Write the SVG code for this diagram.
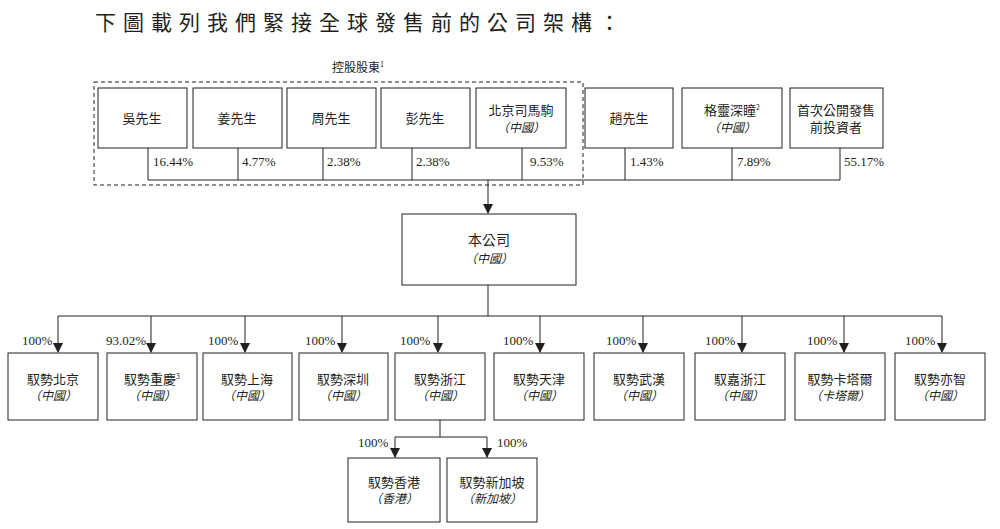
<svg xmlns="http://www.w3.org/2000/svg" width="1000" height="529" viewBox="0 0 1000 529">
<defs>
<marker id="ar" viewBox="0 0 10 10" refX="9" refY="5" markerWidth="10" markerHeight="10" markerUnits="userSpaceOnUse" orient="auto"><path d="M0,0 L10,5 L0,10 z" fill="#231f20"/></marker>
<style>
rect{fill:#fff;stroke:#231f20;stroke-width:1}
text{font-family:"Noto Sans CJK TC","Liberation Serif",serif;fill:#231f20;font-size:13px;text-anchor:middle}
.it{font-style:italic;font-size:12px}
.p{font-family:"Liberation Serif",serif;font-size:13px;text-anchor:start}
line,polyline{stroke:#231f20;stroke-width:1;fill:none}
.a{marker-end:url(#ar)}
</style>
</defs>
<text x="95" y="30" style="font-size:21px;text-anchor:start;letter-spacing:7px">下圖載列我們緊接全球發售前的公司架構：</text>
<text x="358" y="72" style="font-size:12px">控股股東<tspan font-size="7" dy="-5">1</tspan></text>
<rect x="94" y="82" width="489" height="103" style="stroke-dasharray:4,3;fill:none"/>
<g id="connectors">
<line x1="148" y1="148" x2="148" y2="180"/><line x1="238" y1="148" x2="238" y2="180"/>
<line x1="323" y1="148" x2="323" y2="180"/><line x1="412" y1="148" x2="412" y2="180"/>
<line x1="522" y1="148" x2="522" y2="180"/><line x1="625" y1="148" x2="625" y2="180"/>
<line x1="732" y1="148" x2="732" y2="180"/><line x1="840" y1="148" x2="840" y2="180"/>
<line x1="148" y1="180" x2="840" y2="180"/>
<line class="a" x1="488" y1="180" x2="488" y2="213"/>
<line x1="488" y1="285" x2="488" y2="316"/>
<line x1="58" y1="316" x2="942" y2="316"/>
<line class="a" x1="58" y1="316" x2="58" y2="352"/><line class="a" x1="151" y1="316" x2="151" y2="352"/>
<line class="a" x1="245" y1="316" x2="245" y2="352"/><line class="a" x1="342" y1="316" x2="342" y2="352"/>
<line class="a" x1="438" y1="316" x2="438" y2="352"/><line class="a" x1="540" y1="316" x2="540" y2="352"/>
<line class="a" x1="643" y1="316" x2="643" y2="352"/><line class="a" x1="742" y1="316" x2="742" y2="352"/>
<line class="a" x1="844" y1="316" x2="844" y2="352"/><line class="a" x1="942" y1="316" x2="942" y2="352"/>
<line x1="440" y1="420" x2="440" y2="437"/><line x1="395" y1="437" x2="487" y2="437"/>
<line class="a" x1="395" y1="437" x2="395" y2="457"/><line class="a" x1="487" y1="437" x2="487" y2="457"/>
</g>
<g id="pct">
<text class="p" x="153" y="166">16.44%</text><text class="p" x="242" y="166">4.77%</text>
<text class="p" x="327" y="166">2.38%</text><text class="p" x="416" y="166">2.38%</text>
<text class="p" x="530" y="166">9.53%</text><text class="p" x="630" y="166">1.43%</text>
<text class="p" x="737" y="166">7.89%</text><text class="p" x="844" y="166">55.17%</text>
<text class="p" x="22" y="345">100%</text><text class="p" x="106" y="345">93.02%</text>
<text class="p" x="208" y="345">100%</text><text class="p" x="305" y="345">100%</text>
<text class="p" x="400" y="345">100%</text><text class="p" x="503" y="345">100%</text>
<text class="p" x="606" y="345">100%</text><text class="p" x="705" y="345">100%</text>
<text class="p" x="807" y="345">100%</text><text class="p" x="905" y="345">100%</text>
<text class="p" x="358" y="447">100%</text><text class="p" x="497" y="447">100%</text>
</g>
<g id="n1"><rect x="98" y="88" width="89" height="60"/><text x="142" y="123">吳先生</text></g>
<g id="n2"><rect x="193" y="88" width="89" height="60"/><text x="237" y="123">姜先生</text></g>
<g id="n3"><rect x="287" y="88" width="89" height="60"/><text x="331" y="123">周先生</text></g>
<g id="n4"><rect x="381" y="88" width="89" height="60"/><text x="425" y="123">彭先生</text></g>
<g id="n5"><rect x="476" y="88" width="90" height="60"/><text x="521" y="115">北京司馬駒</text><text class="it" x="521" y="132">（中國）</text></g>
<g id="n6"><rect x="585" y="88" width="88" height="60"/><text x="629" y="123">趙先生</text></g>
<g id="n7"><rect x="682" y="88" width="100" height="60"/><text x="732" y="115">格靈深瞳<tspan font-size="7" dy="-5">2</tspan></text><text class="it" x="732" y="132">（中國）</text></g>
<g id="n8"><rect x="790" y="88" width="93" height="60"/><text x="836" y="115">首次公開發售</text><text x="836" y="132">前投資者</text></g>
<g id="co"><rect x="402" y="214" width="174" height="71"/><text x="489" y="245" style="font-size:14px">本公司</text><text class="it" x="489" y="263">（中國）</text></g>
<g id="s1"><rect x="8" y="353" width="90" height="67"/><text x="53" y="384">馭勢北京</text><text class="it" x="53" y="400">（中國）</text></g>
<g id="s2"><rect x="107" y="353" width="90" height="67"/><text x="152" y="384">馭勢重慶<tspan font-size="7" dy="-5">3</tspan></text><text class="it" x="152" y="400">（中國）</text></g>
<g id="s3"><rect x="203" y="353" width="89" height="67"/><text x="247" y="384">馭勢上海</text><text class="it" x="247" y="400">（中國）</text></g>
<g id="s4"><rect x="299" y="353" width="89" height="67"/><text x="343" y="384">馭勢深圳</text><text class="it" x="343" y="400">（中國）</text></g>
<g id="s5"><rect x="395" y="353" width="90" height="67"/><text x="440" y="384">馭勢浙江</text><text class="it" x="440" y="400">（中國）</text></g>
<g id="s6"><rect x="494" y="353" width="90" height="67"/><text x="539" y="384">馭勢天津</text><text class="it" x="539" y="400">（中國）</text></g>
<g id="s7"><rect x="594" y="353" width="90" height="67"/><text x="639" y="384">馭勢武漢</text><text class="it" x="639" y="400">（中國）</text></g>
<g id="s8"><rect x="695" y="353" width="90" height="67"/><text x="740" y="384">馭嘉浙江</text><text class="it" x="740" y="400">（中國）</text></g>
<g id="s9"><rect x="795" y="353" width="90" height="67"/><text x="840" y="384">馭勢卡塔爾</text><text class="it" x="840" y="400">（卡塔爾）</text></g>
<g id="s10"><rect x="895" y="353" width="90" height="67"/><text x="940" y="384">馭勢亦智</text><text class="it" x="940" y="400">（中國）</text></g>
<g id="s11"><rect x="348" y="458" width="92" height="64"/><text x="394" y="487">馭勢香港</text><text class="it" x="394" y="503">（香港）</text></g>
<g id="s12"><rect x="447" y="458" width="90" height="64"/><text x="492" y="487">馭勢新加坡</text><text class="it" x="492" y="503">（新加坡）</text></g>
</svg>
